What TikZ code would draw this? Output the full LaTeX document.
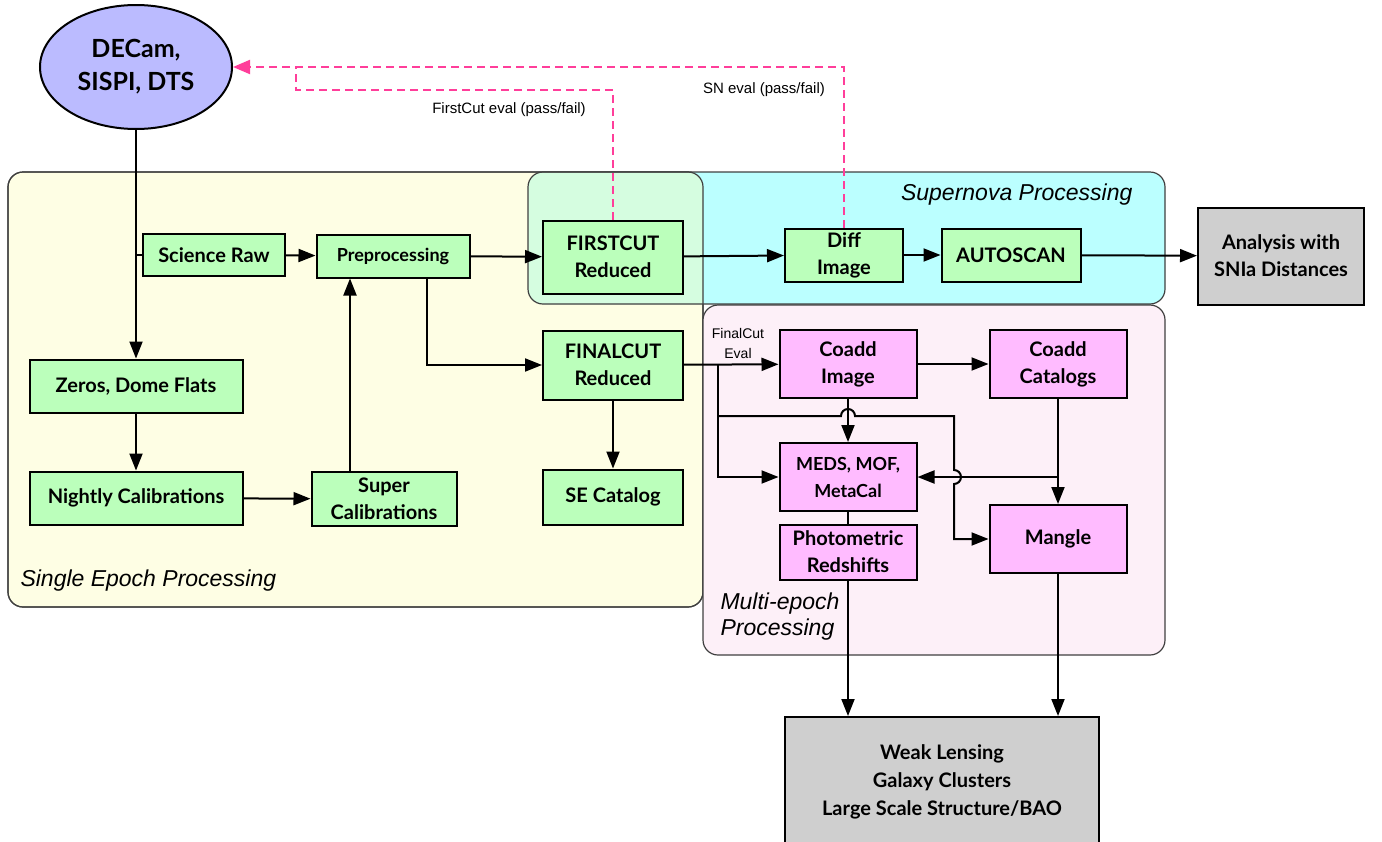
\documentclass[tikz,border=0pt]{standalone}
\usepackage{fontspec}
\setmainfont{Lato}
\newfontfamily\lblfont{Liberation Sans}
\usetikzlibrary{arrows.meta,shapes,calc,backgrounds}
\definecolor{SEYellow}{HTML}{FEFEE4}
\definecolor{SNCyan}{HTML}{BBFFFF}
\definecolor{SNMint}{HTML}{D5FDE0}
\definecolor{MEPink}{HTML}{FDF0F8}
\definecolor{BoxGreen}{HTML}{BBFFBB}
\definecolor{BoxPink}{HTML}{FFBBFF}
\definecolor{BoxGray}{HTML}{CFCFCF}
\definecolor{CamLilac}{HTML}{BBBBFF}
\definecolor{EvalPink}{HTML}{FF3E9A}

\begin{document}
\begin{tikzpicture}[x=1pt,y=-1pt,
    gbox/.style={rectangle,draw,line width=2pt,fill=BoxGreen,align=center,inner sep=0pt,font=\fontsize{20}{27}\selectfont\bfseries},
    pbox/.style={gbox,fill=BoxPink},
    ybox/.style={gbox,fill=BoxGray},
    arr/.style={-{Triangle[length=17pt,width=13pt]},line width=2pt},
    eval/.style={-{Triangle[length=17pt,width=14pt]},line width=2pt,dash pattern=on 8pt off 5pt,draw=EvalPink},
    region/.style={rounded corners=15pt,draw=black!75,line width=1.2pt},
    tag/.style={font=\lblfont\itshape\fontsize{23}{26}\selectfont},
    note/.style={font=\lblfont\fontsize{15}{20}\selectfont}]
        \useasboundingbox (0,0) rectangle (1382,841);
        % processing regions
        \draw[region,fill=SEYellow] (8,172) rectangle (703,607);
        \fill[SNCyan,rounded corners=15pt] (528,172) rectangle (1165,304);
        \begin{scope}
            \clip[rounded corners=15pt] (8,172) rectangle (703,607);
            \fill[SNMint,rounded corners=15pt] (528,172) rectangle (1165,304);
        \end{scope}
        \draw[region] (528,172) rectangle (1165,304);
        \draw[region] (8,172) rectangle (703,607);
        \draw[region,fill=MEPink] (703,305) rectangle (1165,655);
        \node[tag,anchor=west] (setag) at (17,581) {Single Epoch Processing};
        \node[tag,anchor=east] (sntag) at (1136,195) {Supernova Processing};
        \node[tag,anchor=west,align=left] (metag) at (717,617) {Multi-epoch\\Processing};
        % nodes
        \node[ellipse,draw,line width=2pt,fill=CamLilac,minimum width=192pt,minimum height=124pt,inner sep=0pt,align=center,font=\fontsize{25}{33}\selectfont\bfseries] (cam) at (136,67) {DECam,\\SISPI, DTS};
        \node[gbox,minimum width=142pt,minimum height=42pt] (raw) at (214,255) {Science Raw};
        \node[gbox,minimum width=153pt,minimum height=43pt,font=\fontsize{18}{24}\selectfont\bfseries] (pre) at (393,256) {Preprocessing};
        \node[gbox,minimum width=140pt,minimum height=73pt] (fcut) at (613,257) {FIRSTCUT\\Reduced};
        \node[gbox,minimum width=118pt,minimum height=53pt] (diff) at (844,255) {Diff\\Image};
        \node[gbox,minimum width=139pt,minimum height=53pt] (auto) at (1011,255) {AUTOSCAN};
        \node[ybox,minimum width=166pt,minimum height=97pt] (sn) at (1281,256) {Analysis with\\SNIa Distances};
        \node[gbox,minimum width=213pt,minimum height=53pt] (zero) at (136,386) {Zeros, Dome Flats};
        \node[gbox,minimum width=213pt,minimum height=53pt] (night) at (136,498) {Nightly Calibrations};
        \node[gbox,minimum width=145pt,minimum height=54pt] (super) at (384,499) {Super\\Calibrations};
        \node[gbox,minimum width=140pt,minimum height=69pt] (final) at (613,365) {FINALCUT\\Reduced};
        \node[gbox,minimum width=140pt,minimum height=55pt] (secat) at (613,497) {SE Catalog};
        \node[pbox,minimum width=137pt,minimum height=68pt] (cimg) at (848,364) {Coadd\\Image};
        \node[pbox,minimum width=137pt,minimum height=68pt] (ccat) at (1058,364) {Coadd\\Catalogs};
        \node[pbox,minimum width=137pt,minimum height=68pt,font=\fontsize{18}{27}\selectfont\bfseries] (meds) at (848,477) {MEDS, MOF,\\MetaCal};
        \node[pbox,minimum width=137pt,minimum height=55pt] (photz) at (848,552) {Photometric\\Redshifts};
        \node[pbox,minimum width=137pt,minimum height=68pt] (mangle) at (1058,539) {Mangle};
        \node[ybox,minimum width=314pt,minimum height=130pt,font=\fontsize{20}{28}\selectfont\bfseries] (sci) at (942,782) {Weak Lensing\\Galaxy Clusters\\Large Scale Structure/BAO};
        % single epoch flow
        \draw[arr] (cam) -- (zero);
        \draw[line width=2pt] (zero.north |- raw.west) -- (raw.west);
        \draw[arr] (raw) -- (pre);
        \draw[arr] (pre) -- (fcut);
        \draw[arr] ([xshift=34pt]pre.south) |- (final);
        \draw[arr] (zero) -- (night);
        \draw[arr] (night) -- (super);
        \draw[arr] ([xshift=-34pt]super.north) -- ([xshift=-34pt]super.north |- pre.south);
        \draw[arr] (final) -- (secat);
        % supernova flow
        \draw[arr] (fcut) -- (diff);
        \draw[arr] (diff) -- (auto);
        \draw[arr] (auto) -- (sn);
        % multi-epoch flow
        \draw[arr] (final) -- (cimg);
        \node[note,align=center,font=\lblfont\fontsize{14}{20}\selectfont] (fvlbl) at (738,343) {FinalCut\\Eval};
        \coordinate (fork) at (718,365);
        \coordinate (hop) at (718,416);
        \coordinate (turn) at (954,416);
        \draw[arr] (fork) |- (meds);
        \draw[arr] (hop) -- ($(cimg.south |- hop)+(-7,0)$) arc[start angle=180,end angle=0,radius=7pt] -- (turn) -- ($(turn |- meds.east)+(0,-7)$) arc[start angle=90,end angle=-90,radius=7pt] |- (mangle);
        \draw[arr] (cimg) -- (ccat);
        \draw[arr] (cimg) -- (meds);
        \draw[arr] (ccat) -- (mangle);
        \draw[arr] (ccat.south |- meds.east) -- (meds.east);
        \draw[line width=2pt] (meds) -- (photz);
        \draw[arr] (photz) -- (photz |- sci.north);
        \draw[arr] (mangle) -- (mangle |- sci.north);
        % pass/fail feedback
        \coordinate (join) at (296,67);
        \draw[eval,-] (fcut.north) |- (296,90) -- (join);
        \draw[eval] (diff.north) |- (cam.east);
        \node[note] (fclbl) at (509,110) {FirstCut eval (pass/fail)};
        \node[note] (snlbl) at (764,90) {SN eval (pass/fail)};
\end{tikzpicture}
\end{document}
